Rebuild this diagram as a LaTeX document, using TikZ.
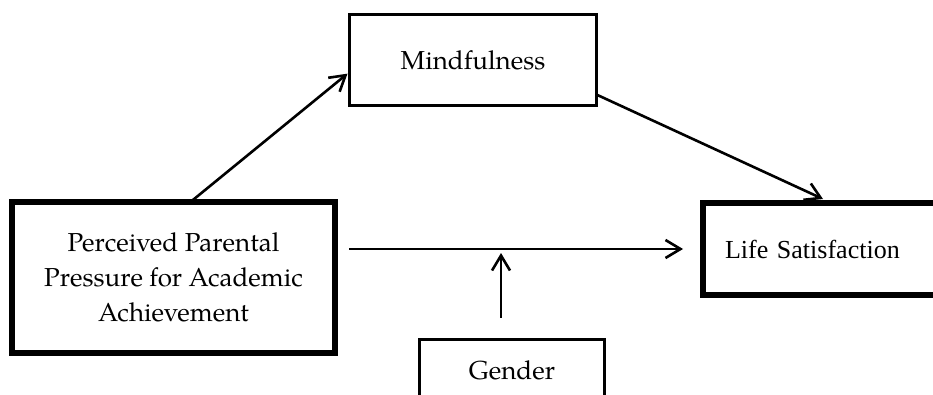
\documentclass[tikz,border=0pt]{standalone}
\usepackage{fontspec}
\newfontfamily\timesfont{Liberation Serif}
\newfontfamily\palfont{TeX Gyre Pagella}
\usetikzlibrary{arrows.meta,calc}
\begin{document}
\begin{tikzpicture}[x=1pt,y=-1pt,
  thinbox/.style={draw, line width=3pt, inner sep=0pt, outer sep=0pt, anchor=north west,
    font=\palfont\fontsize{26}{35}\selectfont, align=center},
  thickbox/.style={draw, line width=6pt, inner sep=0pt, outer sep=0pt, anchor=north west},
  arr/.style={line width=2.6pt, -{Straight Barb[length=15pt, width=18pt]}}]
\fill[white] (0,0) rectangle (933,394);
\useasboundingbox (0,0) rectangle (933,394);
% boxes
\node[thickbox, minimum width=323pt, minimum height=151pt, align=center,
  font=\palfont\fontsize{26}{35}\selectfont] (ppp) at (12,202)
  {Perceived Parental\\Pressure for Academic\\Achievement};
\node[thinbox, minimum width=247pt, minimum height=91pt] (mind) at (349.5,14.5) {Mindfulness};
\node[thinbox, minimum width=185pt, minimum height=61pt] (gender) at (419.5,339.5) {Gender};
\node[thickbox, minimum width=297pt, minimum height=92pt, text width=253pt, inner xsep=22pt,
  align=left, font=\timesfont\fontsize{26}{30}\selectfont] (life) at (703,203) {Life Satisfaction};
% connectors
\draw[arr] ($(ppp.north west)!0.56!(ppp.north east)+(0,-2)$) -- ($(mind.north west)!0.65!(mind.south west)+(-2,0)$);
\draw[arr] ($(mind.north east)!0.88!(mind.south east)$) -- ($(life.north west)+(120,-4)$);
\coordinate (hs) at ($(ppp.east |- life.west)+(14,0)$);
\coordinate (he) at ($(life.west)+(-20,0)$);
\draw[arr] (hs) -- (he);
\coordinate (vs) at ($(gender.north)+(-11,-22)$);
\coordinate (ve) at ($(vs |- life.west)+(0,4)$);
\draw[arr] (vs) -- (ve);
\end{tikzpicture}
\end{document}
